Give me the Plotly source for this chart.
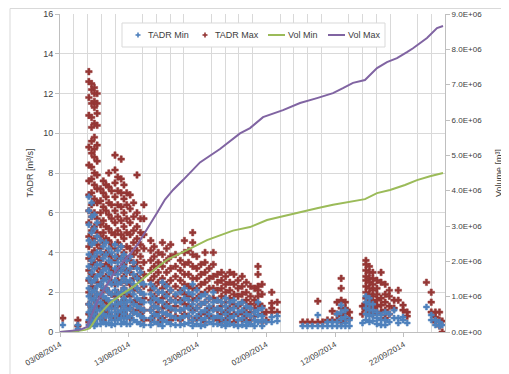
import plotly.graph_objects as go
import pandas as pd

# ---------------- data ----------------
start_date = "2014-08-03"

# TADR scatter columns: day offset from start, values per column
tadr_days = [0.4, 2.6, 4.2, 4.6, 5.0, 5.4, 5.9, 6.3, 6.7, 7.1, 7.5, 8.0, 8.4, 8.9, 9.3, 9.7,
             10.2, 10.7, 11.2, 11.7, 12.2, 13.2, 13.7, 14.3, 14.9, 15.5, 16.1, 16.8, 17.5,
             18.1, 18.7, 19.3, 19.9, 20.5, 21.1, 21.7, 22.3, 22.9, 23.5, 24.1, 24.7, 25.3,
             25.9, 26.5, 27.1, 27.7, 28.3, 28.8, 29.4, 30.0, 30.8, 31.6, 35.3, 36.0, 36.7,
             37.5, 38.2, 38.9, 39.6, 40.3, 40.9, 41.5, 42.1, 44.0, 44.5, 45.0, 45.5, 46.1,
             46.7, 47.3, 47.9, 48.6, 49.2, 49.9, 50.5, 53.3, 54.0, 54.6, 55.2, 55.6]

tadr_max = [
    [0.7], [0.6, 0.3],
    [13.1, 12.6, 11.8, 10.9, 9.3, 8.4, 7.6, 6.9, 6.1, 5.5, 4.8, 4.3, 3.7, 3.1, 2.6, 2.0, 1.4, 0.9, 0.5],
    [12.5, 12.2, 11.5, 10.8, 10.3, 9.6, 9.0, 8.3, 7.7, 7.0, 6.4, 5.8, 5.1, 4.5, 3.9, 3.4, 2.9, 2.3, 1.8, 1.2, 0.7],
    [12.3, 12.0, 11.6, 11.3, 10.5, 9.8, 9.2, 8.8, 8.0, 7.4, 6.7, 6.0, 5.3, 4.7, 4.1, 3.5, 2.8, 2.2, 1.6, 1.0, 0.6],
    [12.0, 11.5, 11.0, 10.4, 9.4, 8.6, 7.9, 7.2, 6.5, 5.7, 5.0, 4.4, 3.8, 3.2, 2.5, 1.9, 1.3, 0.8],
    [7.2, 6.6, 6.0, 5.4, 4.8, 4.2, 3.6, 3.0, 2.4, 1.8, 1.2, 0.7],
    [7.6, 7.0, 6.3, 5.6, 5.0, 4.5, 3.9, 3.3, 2.7, 2.1, 1.5, 1.0, 0.6],
    [7.4, 6.8, 6.1, 5.3, 4.7, 4.0, 3.4, 2.8, 2.2, 1.6, 1.1],
    [8.0, 7.3, 6.5, 5.9, 5.2, 4.6, 3.9, 3.3, 2.7, 2.0, 1.4, 0.9],
    [7.1, 6.4, 5.7, 5.0, 4.4, 3.8, 3.1, 2.5, 1.9, 1.3, 0.8],
    [8.9, 8.15, 7.5, 6.8, 6.1, 5.5, 4.9, 4.2, 3.6, 3.0, 2.4, 1.8, 1.2, 0.7],
    [7.8, 7.1, 6.4, 5.8, 5.1, 4.5, 3.8, 3.2, 2.6, 2.0, 1.5, 0.9],
    [8.7, 7.7, 7.0, 6.3, 5.6, 4.9, 4.3, 3.7, 3.1, 2.5, 1.9, 1.3, 0.8],
    [7.4, 6.7, 6.0, 5.3, 4.7, 4.0, 3.4, 2.8, 2.2, 1.6, 1.0],
    [7.0, 6.4, 5.7, 5.0, 4.3, 3.7, 3.1, 2.5, 1.9, 1.3, 0.8],
    [6.9, 6.2, 5.5, 4.9, 4.2, 3.6, 3.0, 2.4, 1.8, 1.2, 0.7],
    [6.5, 5.8, 5.1, 4.5, 3.9, 3.3, 2.7, 2.1, 1.5, 1.0],
    [7.9, 6.0, 5.3, 4.7, 4.1, 3.5, 2.8, 2.2, 1.6, 1.1],
    [5.7, 5.0, 4.4, 3.8, 3.2, 2.6, 2.0, 1.4, 0.9],
    [6.4, 5.7, 4.9, 4.2, 3.5, 2.9, 2.3, 1.7, 1.1, 0.6],
    [4.6, 4.1, 3.6, 3.1, 2.6, 2.1, 1.6, 1.1, 0.6],
    [4.3, 3.8, 3.3, 2.8, 2.3, 1.8, 1.3, 0.8],
    [4.0, 3.5, 3.0, 2.5, 2.0, 1.5, 1.0, 0.5],
    [4.5, 3.9, 3.3, 2.7, 2.2, 1.7, 1.2, 0.7],
    [4.2, 3.6, 3.0, 2.4, 1.9, 1.4, 0.9],
    [4.4, 3.8, 3.2, 2.6, 2.1, 1.6, 1.1, 0.6],
    [3.9, 3.3, 2.8, 2.3, 1.8, 1.3, 0.8],
    [3.6, 3.1, 2.6, 2.1, 1.6, 1.1, 0.6],
    [4.6, 4.0, 3.4, 2.9, 2.4, 1.9, 1.4, 0.9],
    [4.1, 3.5, 2.9, 2.3, 1.8, 1.3, 0.8],
    [5.0, 4.5, 3.9, 3.3, 2.7, 2.2, 1.6, 1.1, 0.6],
    [3.8, 3.2, 2.7, 2.2, 1.7, 1.2, 0.7],
    [3.4, 2.9, 2.4, 1.9, 1.4, 0.9],
    [4.0, 3.5, 3.0, 2.5, 2.0, 1.5, 1.0, 0.5],
    [3.2, 2.7, 2.2, 1.7, 1.2, 0.8],
    [4.0, 3.4, 2.8, 2.2, 1.7, 1.2, 0.7],
    [2.9, 2.5, 2.1, 1.6, 1.1, 0.6],
    [3.0, 2.6, 2.2, 1.8, 1.3, 0.9, 0.5],
    [2.8, 2.4, 2.0, 1.5, 1.0, 0.6],
    [3.0, 2.5, 2.1, 1.7, 1.2, 0.8],
    [2.9, 2.4, 1.9, 1.4, 0.9, 0.5],
    [2.6, 2.2, 1.8, 1.3, 0.9],
    [2.8, 2.3, 1.9, 1.5, 1.0, 0.6],
    [2.5, 2.0, 1.6, 1.2, 0.8],
    [2.3, 1.8, 1.4, 1.0, 0.6],
    [2.2, 1.6, 1.2, 0.8],
    [3.3, 2.9, 2.3, 2.1, 1.8, 1.4],
    [2.4, 1.9, 1.3, 0.9, 0.5],
    [1.0, 0.6],
    [2.0, 1.45, 1.2, 1.0],
    [1.5, 1.0],
    [0.5], [0.5], [0.5],
    [1.55, 0.5],
    [0.5], [0.6], [1.05, 0.6], [1.5, 0.9, 0.6],
    [2.7, 2.2, 1.6, 1.2, 0.8, 0.5],
    [1.5, 1.2, 0.9, 0.6],
    [1.0, 0.7],
    [1.3, 0.9],
    [3.6, 3.4, 3.1, 2.8, 2.6, 2.3, 2.0, 1.7, 1.4, 1.1],
    [3.3, 3.0, 2.7, 2.5, 2.2, 1.9, 1.6, 1.3, 1.0],
    [3.0, 2.7, 2.4, 2.1, 1.8, 1.5, 1.2, 0.9],
    [2.6, 2.2, 1.9, 1.6, 1.3, 1.0],
    [3.0, 2.5, 1.7, 1.35, 1.0],
    [2.4, 1.9, 1.5, 1.1, 0.7],
    [2.1, 1.8, 1.3, 0.9],
    [1.6, 1.2],
    [2.1, 1.6],
    [1.35, 1.1],
    [1.0, 0.8],
    [2.5],
    [2.0, 1.5, 1.0],
    [1.0, 0.75, 0.5],
    [1.0, 0.6, 0.3],
    [0.55, 0.0],
]

tadr_min = [
    [0.35], [0.35, 0.15],
    [6.8, 6.1, 5.4, 4.6, 3.9, 3.3, 2.7, 2.2, 1.8, 1.4, 1.0, 0.6, 0.35],
    [6.5, 5.8, 5.0, 4.4, 3.6, 3.0, 2.5, 2.0, 1.6, 1.2, 0.8, 0.5],
    [5.9, 5.2, 4.5, 3.8, 3.2, 2.6, 2.1, 1.7, 1.3, 0.9, 0.6, 0.3],
    [5.5, 4.8, 4.0, 3.4, 2.8, 2.3, 1.9, 1.5, 1.1, 0.7, 0.4],
    [4.6, 4.0, 3.4, 2.9, 2.4, 1.9, 1.5, 1.1, 0.7, 0.4],
    [4.3, 3.7, 3.1, 2.6, 2.2, 1.8, 1.3, 0.9, 0.5],
    [4.5, 3.9, 3.2, 2.7, 2.2, 1.7, 1.2, 0.8, 0.4],
    [4.2, 3.6, 3.0, 2.5, 2.0, 1.6, 1.2, 0.8, 0.45],
    [4.0, 3.5, 2.9, 2.4, 1.9, 1.4, 1.0, 0.6, 0.35],
    [4.4, 3.8, 3.2, 2.6, 2.1, 1.6, 1.2, 0.8, 0.4],
    [4.1, 3.5, 2.9, 2.4, 1.9, 1.4, 1.0, 0.6],
    [4.3, 3.7, 3.1, 2.5, 2.0, 1.5, 1.1, 0.7, 0.4],
    [3.9, 3.3, 2.7, 2.2, 1.7, 1.3, 0.9, 0.5],
    [3.6, 3.0, 2.5, 2.0, 1.5, 1.1, 0.7, 0.4],
    [3.8, 3.2, 2.6, 2.1, 1.6, 1.2, 0.8, 0.4],
    [3.5, 2.9, 2.4, 1.9, 1.4, 1.0, 0.6],
    [3.2, 2.7, 2.2, 1.7, 1.3, 0.9, 0.5],
    [3.0, 2.5, 2.0, 1.6, 1.2, 0.8, 0.4],
    [2.4, 1.9, 1.5, 1.1, 0.7, 0.35],
    [2.4, 1.9, 1.5, 1.1, 0.7, 0.35],
    [2.2, 1.7, 1.3, 0.9, 0.5],
    [2.0, 1.6, 1.2, 0.8, 0.4],
    [2.5, 2.0, 1.5, 1.0, 0.6, 0.3],
    [2.3, 1.8, 1.3, 0.9, 0.5],
    [2.1, 1.6, 1.2, 0.8, 0.4],
    [1.9, 1.5, 1.1, 0.7, 0.35],
    [2.0, 1.5, 1.1, 0.7, 0.35],
    [2.2, 1.7, 1.2, 0.8, 0.4],
    [2.0, 1.6, 1.2, 0.8, 0.45],
    [2.4, 1.9, 1.4, 1.0, 0.6, 0.3],
    [2.1, 1.6, 1.2, 0.8, 0.4],
    [1.8, 1.4, 1.0, 0.6, 0.3],
    [1.9, 1.5, 1.1, 0.7, 0.35],
    [1.7, 1.3, 0.9, 0.5],
    [2.0, 1.5, 1.1, 0.7, 0.4],
    [1.6, 1.2, 0.8, 0.4],
    [1.5, 1.1, 0.7, 0.35],
    [1.7, 1.3, 0.9, 0.5, 0.3],
    [1.5, 1.1, 0.7, 0.4],
    [1.6, 1.2, 0.8, 0.35],
    [1.4, 1.0, 0.6, 0.3],
    [1.5, 1.1, 0.7, 0.35],
    [1.3, 0.9, 0.5, 0.3],
    [1.2, 0.8, 0.4],
    [1.0, 0.6, 0.3],
    [1.5, 1.1, 0.85, 0.5],
    [1.2, 0.8, 0.6, 0.3],
    [0.5],
    [0.75, 0.5],
    [0.8, 0.55],
    [0.3], [0.3], [0.3],
    [0.85, 0.3],
    [0.3], [0.5, 0.3], [0.5, 0.3], [0.9, 0.5, 0.3],
    [1.35, 1.0, 0.65, 0.3],
    [1.1, 0.75, 0.45, 0.3],
    [0.6, 0.3],
    [0.45],
    [1.8, 1.5, 1.2, 0.9, 0.6],
    [1.7, 1.4, 1.1, 0.8, 0.5],
    [1.4, 1.1, 0.85, 0.55],
    [1.0, 0.7, 0.4],
    [0.85, 0.6, 0.35],
    [1.0, 0.6, 0.35],
    [0.9, 0.5],
    [1.1, 0.7],
    [0.7, 0.45],
    [0.75, 0.6],
    [0.45],
    [1.26],
    [0.85, 0.6],
    [0.6, 0.35],
    [0.5, 0.3],
    [0.35],
]

vol_max_days = [0.0, 1.45, 2.9, 3.93, 4.65, 5.38, 6.55, 7.71, 9.02, 10.18, 11.35, 12.65, 14.1,
                15.27, 16.44, 17.89, 20.36, 23.27, 26.18, 27.64, 29.53, 32.44, 34.91, 37.38,
                39.71, 41.16, 42.62, 44.36, 46.11, 47.56, 49.02, 50.47, 51.35, 53.38, 54.84, 55.71]
vol_max = [0.0, 0.02e6, 0.06e6, 0.14e6, 0.5e6, 0.85e6, 1.25e6, 1.62e6, 1.95e6, 2.2e6, 2.5e6,
           2.9e6, 3.37e6, 3.75e6, 4.02e6, 4.3e6, 4.8e6, 5.18e6, 5.62e6, 5.77e6, 6.08e6, 6.28e6,
           6.48e6, 6.62e6, 6.76e6, 6.9e6, 7.05e6, 7.13e6, 7.47e6, 7.64e6, 7.75e6, 7.92e6,
           8.03e6, 8.32e6, 8.6e6, 8.66e6]

vol_min_days = [0.0, 2.18, 3.64, 4.36, 5.38, 7.27, 9.02, 10.62, 13.09, 15.56, 18.47, 21.38, 25.16,
                27.64, 30.11, 32.44, 34.91, 37.38, 39.71, 42.18, 44.36, 46.11, 48.0, 50.18,
                51.93, 53.82, 55.71]
vol_min = [0.0, 0.02e6, 0.06e6, 0.11e6, 0.42e6, 0.82e6, 1.07e6, 1.27e6, 1.67e6, 2.04e6, 2.32e6,
           2.6e6, 2.87e6, 2.97e6, 3.17e6, 3.28e6, 3.4e6, 3.5e6, 3.6e6, 3.68e6, 3.76e6, 3.93e6,
           4.02e6, 4.16e6, 4.3e6, 4.41e6, 4.5e6]

y_left_ticks = [0, 2, 4, 6, 8, 10, 12, 14, 16]
y_right_ticks = [0, 1e6, 2e6, 3e6, 4e6, 5e6, 6e6, 7e6, 8e6, 9e6]
y_right_labels = ["0.0E+00", "1.0E+06", "2.0E+06", "3.0E+06", "4.0E+06",
                  "5.0E+06", "6.0E+06", "7.0E+06", "8.0E+06", "9.0E+06"]
x_range = ["2014-08-03", "2014-09-28"]

series_names = ["TADR Min", "TADR Max", "Vol Min", "Vol Max"]
series_colors = ["#4f81bd", "#953735", "#9bbb59", "#8064a2"]

# ---------------- build ----------------
base = pd.Timestamp(start_date)


def to_dates(days):
    return [base + pd.Timedelta(days=float(d)) for d in days]


max_x, max_y, min_x, min_y = [], [], [], []
for d, vals in zip(tadr_days, tadr_max):
    max_x += [d] * len(vals)
    max_y += vals
for d, vals in zip(tadr_days, tadr_min):
    min_x += [d] * len(vals)
    min_y += vals

FONT = "Liberation Sans, Arial, sans-serif"
TXT = "#404040"
GRID = "#d9d9d9"
AX = "#bfbfbf"

# figure geometry (the page has an 8px body margin)
W, H = 501, 366
ML, MR, MT, MB = 52, 64, 6, 42
PW, PH = W - ML - MR, H - MT - MB


def px(x):  # figure pixel -> paper x
    return (x - ML) / PW


def py(y):  # figure pixel -> paper y
    return 1 - (y - MT) / PH


fig = go.Figure()
fig.add_trace(go.Scatter(x=to_dates(max_x), y=max_y, mode="markers", name=series_names[1],
                         marker=dict(symbol="cross", size=5.5, color=series_colors[1],
                                     line=dict(width=0.5, color=series_colors[1]))))
fig.add_trace(go.Scatter(x=to_dates(min_x), y=min_y, mode="markers", name=series_names[0],
                         marker=dict(symbol="cross", size=5, color=series_colors[0],
                                     line=dict(width=0.5, color=series_colors[0]))))
fig.add_trace(go.Scatter(x=to_dates(vol_min_days), y=vol_min, mode="lines", name=series_names[2],
                         yaxis="y2", line=dict(color=series_colors[2], width=2)))
fig.add_trace(go.Scatter(x=to_dates(vol_max_days), y=vol_max, mode="lines", name=series_names[3],
                         yaxis="y2", line=dict(color=series_colors[3], width=2)))

fig.update_layout(
    width=W, height=H,
    margin=dict(l=ML, r=MR, t=MT, b=MB),
    paper_bgcolor="white", plot_bgcolor="white",
    font=dict(family=FONT, size=9, color=TXT),
    showlegend=False,
    xaxis=dict(type="date", range=x_range, tick0=start_date, dtick=10 * 86400000,
               tickformat="%d/%m/%Y", tickangle=-30, showgrid=False, automargin=False,
               showline=True, linecolor=AX, ticks="outside", ticklen=4,
               tickcolor=AX, tickfont=dict(size=8),
               minor=dict(dtick=2 * 86400000, tick0=start_date, showgrid=True,
                          gridcolor=GRID, gridwidth=1),
               zeroline=False),
    yaxis=dict(range=[0, 16], tickvals=y_left_ticks, showgrid=True, gridcolor=GRID,
               showline=True, linecolor=AX, ticks="outside", ticklen=4, automargin=False,
               tickcolor=AX, zeroline=False, tickfont=dict(size=9),
               title=dict(text="TADR [m³/s]", standoff=8, font=dict(size=9))),
    yaxis2=dict(range=[0, 9e6], overlaying="y", side="right", tickvals=y_right_ticks,
                ticktext=y_right_labels, showgrid=False, showline=True, automargin=False,
                linecolor=AX, ticks="outside", ticklen=4, tickcolor=AX,
                zeroline=False, tickfont=dict(size=8),
                title=dict(text="Volume [m³]", standoff=14, font=dict(size=9))),
)

# outer chart border
fig.add_shape(type="rect", xref="paper", yref="paper", x0=px(2), x1=px(498), y0=py(372), y1=py(0.5),
              line=dict(color=GRID, width=1), fillcolor="rgba(0,0,0,0)", layer="below")

# ---- legend (drawn by hand to match the compact Excel layout) ----
leg_box = (114, 15, 377, 39)          # figure pixels: left, top, right, bottom
leg_y = 27
leg_symbol_x = [130, 197, 260, 320]   # marker centre / line start
leg_text_x = [139, 206, 279, 339]
fig.add_shape(type="rect", xref="paper", yref="paper",
              x0=px(leg_box[0]), x1=px(leg_box[2]), y0=py(leg_box[3]), y1=py(leg_box[1]),
              line=dict(color=GRID, width=1), fillcolor="white", layer="above")
for i, name in enumerate(series_names):
    c = series_colors[i]
    sx = leg_symbol_x[i]
    if i < 2:
        fig.add_shape(type="line", xref="paper", yref="paper", x0=px(sx - 2.5), x1=px(sx + 2.5),
                      y0=py(leg_y), y1=py(leg_y), line=dict(color=c, width=1.6), layer="above")
        fig.add_shape(type="line", xref="paper", yref="paper", x0=px(sx), x1=px(sx),
                      y0=py(leg_y - 2.5), y1=py(leg_y + 2.5), line=dict(color=c, width=1.6),
                      layer="above")
    else:
        fig.add_shape(type="line", xref="paper", yref="paper", x0=px(sx), x1=px(sx + 17),
                      y0=py(leg_y), y1=py(leg_y), line=dict(color=c, width=2), layer="above")
    fig.add_annotation(xref="paper", yref="paper", x=px(leg_text_x[i]), y=py(leg_y),
                       text=name, showarrow=False, xanchor="left", yanchor="middle",
                       font=dict(size=9, color=TXT), xshift=-1)

fig.write_html("out.html")
